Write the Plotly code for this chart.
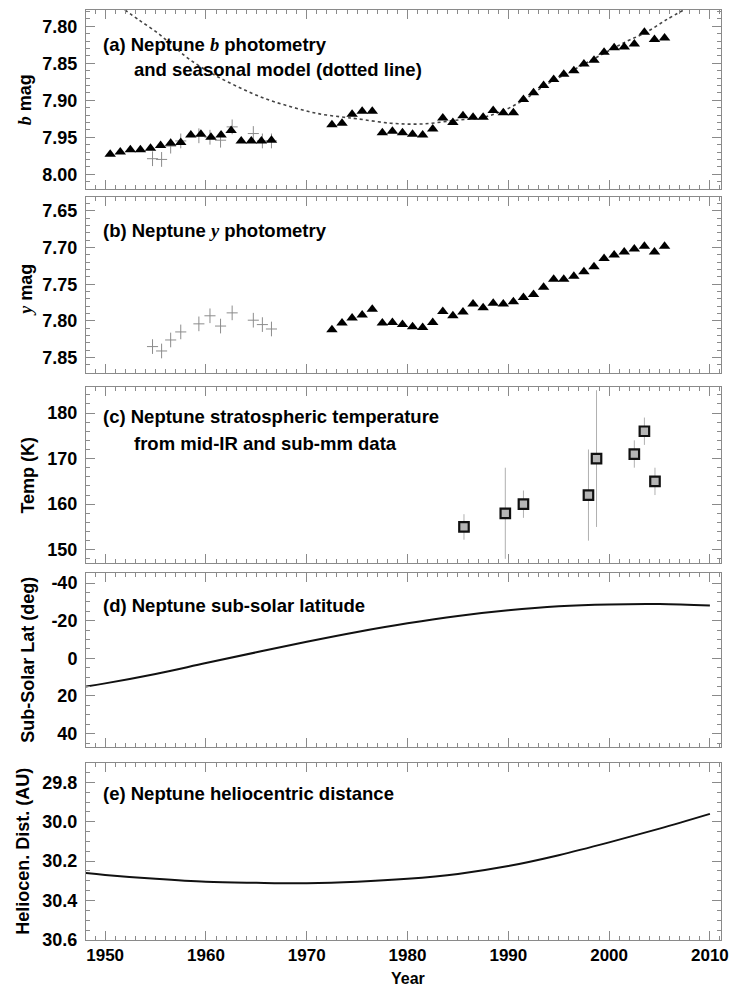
import plotly.graph_objects as go

# ---------------- data ----------------
# (a) b photometry, triangles
a_years_1 = [1950.5, 1951.5, 1952.5, 1953.5, 1954.5, 1955.5, 1956.5, 1957.5, 1958.5,
             1959.5, 1960.5, 1961.5, 1962.5, 1963.5, 1964.5, 1965.5, 1966.5]
a_mag_1 = [7.973, 7.970, 7.967, 7.967, 7.965, 7.961, 7.958, 7.957, 7.947,
           7.946, 7.950, 7.947, 7.941, 7.955, 7.955, 7.955, 7.954]
a_years_2 = [1972.5, 1973.5, 1974.5, 1975.5, 1976.5, 1977.5, 1978.5, 1979.5, 1980.5,
             1981.5, 1982.5, 1983.5, 1984.5, 1985.5, 1986.5, 1987.5, 1988.5, 1989.5,
             1990.5, 1991.5, 1992.5, 1993.5, 1994.5, 1995.5, 1996.5, 1997.5, 1998.5,
             1999.5, 2000.5, 2001.5, 2002.5, 2003.5, 2004.5, 2005.5]
a_mag_2 = [7.933, 7.931, 7.919, 7.915, 7.915, 7.944, 7.942, 7.944, 7.946,
           7.947, 7.939, 7.924, 7.930, 7.921, 7.923, 7.923, 7.914, 7.917,
           7.917, 7.899, 7.890, 7.880, 7.872, 7.865, 7.860, 7.851, 7.846,
           7.835, 7.829, 7.828, 7.824, 7.808, 7.818, 7.816]
# (a) older photometry (gray crosses)
a_cross_years = [1954.7, 1955.6, 1956.5, 1957.5, 1959.3, 1960.4, 1961.45, 1962.6, 1964.7, 1965.6, 1966.5]
a_cross_mag = [7.979, 7.980, 7.962, 7.955, 7.948, 7.950, 7.954, 7.936, 7.945, 7.955, 7.955]
# (a) seasonal model (dotted)
model_years = [1951.96, 1953.4, 1955.1, 1956.7, 1958.3, 1960.6, 1963.2, 1965.9, 1968.5,
               1971.1, 1973.7, 1975.0, 1978.3, 1981.5, 1984.8, 1987.5, 1989.5, 1991.6,
               1993.5, 1995.5, 1997.55, 1999.7, 2001.8, 2003.7, 2005.7, 2007.4]
model_mag = [7.778, 7.792, 7.808, 7.826, 7.844, 7.864, 7.882, 7.898, 7.909,
             7.918, 7.923, 7.925, 7.931, 7.932, 7.927, 7.923, 7.914, 7.899,
             7.881, 7.866, 7.851, 7.835, 7.820, 7.808, 7.791, 7.778]

# (b) y photometry
b_years = a_years_2
b_mag = [7.812, 7.803, 7.796, 7.792, 7.784, 7.803, 7.802, 7.805, 7.808,
         7.809, 7.802, 7.787, 7.793, 7.788, 7.777, 7.782, 7.776, 7.777,
         7.774, 7.768, 7.764, 7.754, 7.743, 7.743, 7.739, 7.733, 7.726,
         7.715, 7.710, 7.706, 7.702, 7.698, 7.706, 7.698]
b_cross_years = [1954.7, 1955.6, 1956.5, 1957.5, 1959.3, 1960.4, 1961.45, 1962.6, 1964.7, 1965.6, 1966.5]
b_cross_mag = [7.835, 7.841, 7.826, 7.815, 7.804, 7.793, 7.807, 7.789, 7.799, 7.805, 7.811]
cross_xerr = [0.55] * 11
cross_yerr = [0.010] * 11

# (c) stratospheric temperature
c_years = [1985.6, 1989.7, 1991.5, 1997.95, 1998.75, 2002.5, 2003.5, 2004.55]
c_temp = [155, 158, 160, 162, 170, 171, 176, 165]
c_err = [2.8, 10, 3, 10, 15, 3, 3, 3]

# (d) sub-solar latitude
d_years = [1948, 1950, 1955, 1960, 1965, 1970, 1975, 1980, 1985, 1990, 1995, 2000, 2005, 2010]
d_lat = [15.0, 13.3, 8.3, 2.5, -3.2, -8.8, -14.0, -18.6, -22.5, -25.5, -27.6, -28.6, -28.8, -28.0]
d_tickvals = [-40, -20, 0, 20, 40]
d_ticktext = ["-40", "-20", "0", "20", "40"]

# (e) heliocentric distance
e_years = [1948, 1950, 1955, 1960, 1965, 1970, 1975, 1980, 1985, 1990, 1995, 2000, 2005, 2010]
e_dist = [30.26, 30.27, 30.29, 30.305, 30.31, 30.312, 30.305, 30.29, 30.265, 30.225, 30.17, 30.105, 30.035, 29.96]

# ---------------- figure ----------------
FONT = "Liberation Sans, Arial, Helvetica, sans-serif"
SERIF = "Liberation Serif, Times New Roman, serif"
AXC = "#8a8a8a"

fig = go.Figure()

def tri(x, y, ax):
    return go.Scatter(x=x, y=y, mode="markers", xaxis="x" + ax, yaxis="y" + ax,
                      marker=dict(symbol="triangle-up", size=10, color="black"),
                      showlegend=False, hoverinfo="skip")

def cross(x, y, ax):
    return go.Scatter(x=x, y=y, mode="markers", xaxis="x" + ax, yaxis="y" + ax,
                      marker=dict(size=1, color="rgba(0,0,0,0)"),
                      error_x=dict(type="data", array=cross_xerr, color="#8c8c8c", thickness=1, width=0),
                      error_y=dict(type="data", array=cross_yerr, color="#8c8c8c", thickness=1, width=0),
                      showlegend=False, hoverinfo="skip")

# panel a
fig.add_trace(go.Scatter(x=model_years, y=model_mag, mode="lines", xaxis="x", yaxis="y",
                         line=dict(color="#444", width=1.6, dash="dot", shape="spline"),
                         showlegend=False, hoverinfo="skip"))
fig.add_trace(cross(a_cross_years, a_cross_mag, ""))
fig.add_trace(tri(a_years_1, a_mag_1, ""))
fig.add_trace(tri(a_years_2, a_mag_2, ""))
# panel b
fig.add_trace(cross(b_cross_years, b_cross_mag, "2"))
fig.add_trace(tri(b_years, b_mag, "2"))
# panel c
fig.add_trace(go.Scatter(x=c_years, y=c_temp, mode="markers", xaxis="x3", yaxis="y3",
                         marker=dict(symbol="square", size=9.5, color="#b5b5b5",
                                     line=dict(color="#111", width=2.2)),
                         error_y=dict(type="data", array=c_err, color="#b0b0b0", thickness=1, width=0),
                         showlegend=False, hoverinfo="skip"))
# panel d
fig.add_trace(go.Scatter(x=d_years, y=d_lat, mode="lines", xaxis="x4", yaxis="y4",
                         line=dict(color="#111", width=2, shape="spline"),
                         showlegend=False, hoverinfo="skip"))
# panel e
fig.add_trace(go.Scatter(x=e_years, y=e_dist, mode="lines", xaxis="x5", yaxis="y5",
                         line=dict(color="#111", width=2, shape="spline"),
                         showlegend=False, hoverinfo="skip"))

domains = [[0.8075, 1.0], [0.6097, 0.7989], [0.4054, 0.5946], [0.2075, 0.3946], [0.0, 0.1903]]
yranges = [[8.020, 7.778], [7.871, 7.631], [147.1, 185.7], [47.1, -45.3], [30.6005, 29.702]]
ydticks = [0.05, 0.05, 10, 20, 0.2]
ytick0 = [7.80, 7.65, 150, -40, 29.8]
yminor = [0.01, 0.01, 2, 5, 0.05]
yfmt = [".2f", ".2f", "d", "d", ".1f"]

tickfont = dict(family=FONT, size=18, color="black", weight="bold")
xtickfont = dict(family=FONT, size=17, color="black", weight="bold")
layout = dict(width=737, height=988, margin=dict(l=86, r=8.5, t=10, b=48),
              paper_bgcolor="white", plot_bgcolor="white", showlegend=False)

for i in range(5):
    sfx = "" if i == 0 else str(i + 1)
    layout["xaxis" + sfx] = dict(
        domain=[0, 1], anchor="y" + sfx, range=[1948.1, 2011.1], autorange=False,
        tick0=1950, dtick=10, ticks="inside", ticklen=9, tickcolor=AXC, tickwidth=1,
        minor=dict(dtick=1, ticklen=4, ticks="inside", tickcolor=AXC, tickwidth=1),
        showline=True, linecolor=AXC, linewidth=1, mirror="allticks",
        showgrid=False, zeroline=False, showticklabels=(i == 4),
        tickfont=xtickfont, ticklabelstandoff=0)
    ya = dict(
        domain=domains[i], anchor="x" + sfx, range=yranges[i], autorange=False,
        tick0=ytick0[i], dtick=ydticks[i], tickformat=yfmt[i],
        ticks="inside", ticklen=9, tickcolor=AXC, tickwidth=1,
        minor=dict(dtick=yminor[i], ticklen=4, ticks="inside", tickcolor=AXC, tickwidth=1),
        showline=True, linecolor=AXC, linewidth=1, mirror="allticks",
        showgrid=False, zeroline=False, tickfont=tickfont, ticklabelstandoff=4)
    if i == 3:
        ya.update(tickmode="array", tickvals=d_tickvals, ticktext=d_ticktext)
    layout["yaxis" + sfx] = ya

fig.update_layout(**layout)

lab = dict(family=FONT, size=18.5, color="black", weight="bold")
def bi(ch):
    return "<i><span style='font-family:" + SERIF + "'>" + ch + "</span></i>"

def ann(text, x, y, **kw):
    d = dict(text=text, x=x, y=y, xref="paper", yref="paper", showarrow=False,
             xanchor="left", yanchor="middle", font=lab)
    d.update(kw)
    fig.add_annotation(**d)

ann("(a) Neptune " + bi("b") + " photometry", 0.0233, 0.9624)
ann("and seasonal model (dotted line)", 0.0732, 0.9355)
ann("(b) Neptune " + bi("y") + " photometry", 0.0233, 0.7634)
ann("(c) Neptune stratospheric temperature", 0.0233, 0.5627)
ann("from mid-IR and sub-mm data", 0.0732, 0.5344)
ann("(d) Neptune sub-solar latitude", 0.0233, 0.3602)
ann("(e) Neptune heliocentric distance", 0.0233, 0.1577)

ttl = dict(family=FONT, size=18, color="black", weight="bold")
ytitles = [bi("b") + " mag", bi("y") + " mag", "Temp (K)", "Sub-Solar Lat (deg)", "Heliocen. Dist. (AU)"]
ypos = [0.9038, 0.6989, 0.5, 0.301, 0.0957]
xpos = [-0.0949, -0.0949, -0.092, -0.092, -0.0995]
for t, yy, xx in zip(ytitles, ypos, xpos):
    ann(t, xx, yy, xanchor="center", textangle=-90, font=ttl)

ann("Year", 0.5074, -0.0516, xanchor="center", yanchor="bottom", borderpad=0,
    font=dict(family=FONT, size=16, color="black", weight="bold"))

fig.write_html("out.html")
